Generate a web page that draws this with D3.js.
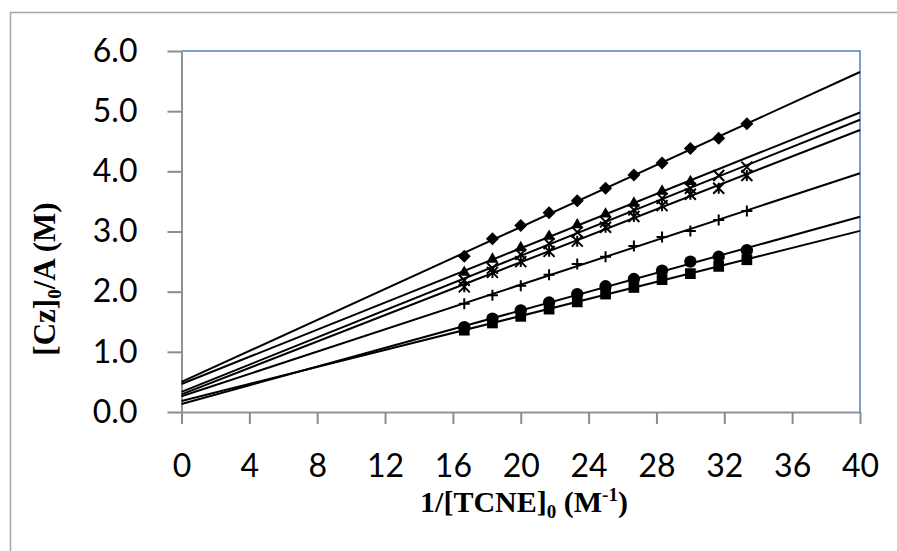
<!DOCTYPE html>
<html><head><meta charset="utf-8">
<script src="https://cdn.jsdelivr.net/npm/d3@7"></script>
<style>body{margin:0;background:#fff}svg{display:block}</style>
</head><body>
<script>
// 1/[TCNE]0 values (M^-1)
const xValues = [16.67, 18.33, 20, 21.67, 23.33, 25, 26.67, 28.33, 30, 31.67, 33.33];
const diamondY  = [2.59, 2.88, 3.10, 3.31, 3.51, 3.72, 3.94, 4.14, 4.38, 4.55, 4.79];
const triangleY = [2.32, 2.54, 2.73, 2.92, 3.11, 3.29, 3.47, 3.67, 3.83];
const crossY    = [2.19, 2.39, 2.62, 2.80, 2.99, 3.16, 3.36, 3.55, 3.72, 3.93, 4.07];
const starY     = [2.08, 2.32, 2.50, 2.67, 2.84, 3.07, 3.25, 3.43, 3.62, 3.72, 3.93];
const plusY     = [1.80, 1.94, 2.10, 2.28, 2.46, 2.58, 2.76, 2.91, 3.01, 3.19, 3.34];
const circleY   = [1.41, 1.55, 1.69, 1.82, 1.96, 2.09, 2.21, 2.35, 2.50, 2.58, 2.69];
const squareY   = [1.36, 1.48, 1.59, 1.71, 1.83, 1.96, 2.07, 2.20, 2.30, 2.42, 2.53];
const xTicks = [0, 4, 8, 12, 16, 20, 24, 28, 32, 36, 40];
const yTicks = [0, 1, 2, 3, 4, 5, 6];

const seriesList = [
  {marker: "diamond", y: diamondY},
  {marker: "triangle", y: triangleY},
  {marker: "cross", y: crossY},
  {marker: "star", y: starY},
  {marker: "plus", y: plusY},
  {marker: "circle", y: circleY},
  {marker: "square", y: squareY}
];

const W = 897, H = 551;
const L = 181.5, R = 860, T = 51, B = 412;
const svg = d3.select("body").append("svg").attr("width", W).attr("height", H);

// outer chart border
svg.append("rect").attr("x", 10.5).attr("y", 12.5).attr("width", W).attr("height", H)
  .attr("fill", "none").attr("stroke", "#a6a6a6").attr("stroke-width", 1.5);

const x = d3.scaleLinear().domain([0, 40]).range([L, R]);
const y = d3.scaleLinear().domain([0, 6]).range([B, T]);

// plot area border (top/right blue)
svg.append("path").attr("d", `M${L},${T}H${R}V${B}`)
  .attr("fill", "none").attr("stroke", "#4f81bd").attr("stroke-width", 1.5);

const tickFont = "Lato, 'Open Sans', sans-serif";
const ax = svg.append("g").attr("transform", `translate(0,${B})`)
  .call(d3.axisBottom(x).tickValues(xTicks).tickSize(12).tickSizeOuter(0).tickPadding(30).tickFormat(d3.format("d")));
const ay = svg.append("g").attr("transform", `translate(${L},0)`)
  .call(d3.axisLeft(y).tickValues(yTicks).tickSize(14).tickSizeOuter(0).tickPadding(30).tickFormat(d3.format(".1f")));
[ax, ay].forEach(g => {
  g.select(".domain").attr("stroke", "#8a949e").attr("stroke-width", 2);
  g.selectAll(".tick line").attr("stroke", "#8c8c8c").attr("stroke-width", 2);
  g.selectAll(".tick text").attr("font-family", tickFont).attr("font-size", 32).attr("fill", "#000");
});

// trendlines (least squares) from x=0 to x=40
function fit(xs, ys) {
  const n = ys.length, xx = xs.slice(0, n);
  const mx = d3.mean(xx), my = d3.mean(ys);
  let num = 0, den = 0;
  for (let i = 0; i < n; i++) { num += (xx[i]-mx)*(ys[i]-my); den += (xx[i]-mx)**2; }
  const b = num/den; return {a: my - b*mx, b};
}
const line = d3.line().x(d => x(d[0])).y(d => y(d[1]));
seriesList.forEach(s => {
  const f = fit(xValues, s.y);
  svg.append("path").attr("d", line([[0, f.a], [40, f.a + 40*f.b]]))
    .attr("fill", "none").attr("stroke", "#000").attr("stroke-width", 2);
});

// markers
const sym = {
  triangle: d3.symbol(d3.symbolTriangle, 62),
  circle: d3.symbol(d3.symbolCircle, 120),
  square: d3.symbol(d3.symbolSquare, 115)
};
seriesList.forEach(s => {
  const g = svg.append("g");
  s.y.forEach((v, i) => {
    const cx = x(xValues[i]), cy = y(v);
    if (s.marker === "diamond") {
      const r = 6.5;
      g.append("path").attr("d", `M0,${-r}L${r},0L0,${r}L${-r},0Z`).attr("transform", `translate(${cx},${cy})`).attr("fill", "#000");
    } else if (sym[s.marker]) {
      g.append("path").attr("d", sym[s.marker]()).attr("transform", `translate(${cx},${cy})`).attr("fill", "#000");
    } else {
      const r = 5.5;
      let d = "";
      if (s.marker === "cross" || s.marker === "star") d += `M${-r},${-r}L${r},${r}M${-r},${r}L${r},${-r}`;
      if (s.marker === "star") d += `M0,${-r}V${r}`;
      if (s.marker === "plus") d += `M${-r},0H${r}M0,${-r}V${r}`;
      g.append("path").attr("d", d).attr("transform", `translate(${cx},${cy})`)
        .attr("stroke", "#000").attr("stroke-width", 2).attr("fill", "none");
    }
  });
});

// axis titles
const titleFont = "'Liberation Serif', 'Times New Roman', serif";
const xt = svg.append("text").attr("x", 524).attr("y", 512).attr("text-anchor", "middle")
  .attr("font-family", titleFont).attr("font-weight", "bold").attr("font-size", 30);
xt.append("tspan").text("1/[TCNE]");
xt.append("tspan").attr("font-size", 19).attr("dy", 6).text("0");
xt.append("tspan").attr("dy", -6).text(" (M");
xt.append("tspan").attr("font-size", 19).attr("dy", -11).text("-1");
xt.append("tspan").attr("dy", 11).text(")");

const yt = svg.append("text").attr("transform", "translate(55,279) rotate(-90)").attr("text-anchor", "middle")
  .attr("font-family", titleFont).attr("font-weight", "bold").attr("font-size", 31);
yt.append("tspan").text("[Cz]");
yt.append("tspan").attr("font-size", 19).attr("dy", 6).text("0");
yt.append("tspan").attr("dy", -6).text("/A (M)");
</script>
</body></html>
